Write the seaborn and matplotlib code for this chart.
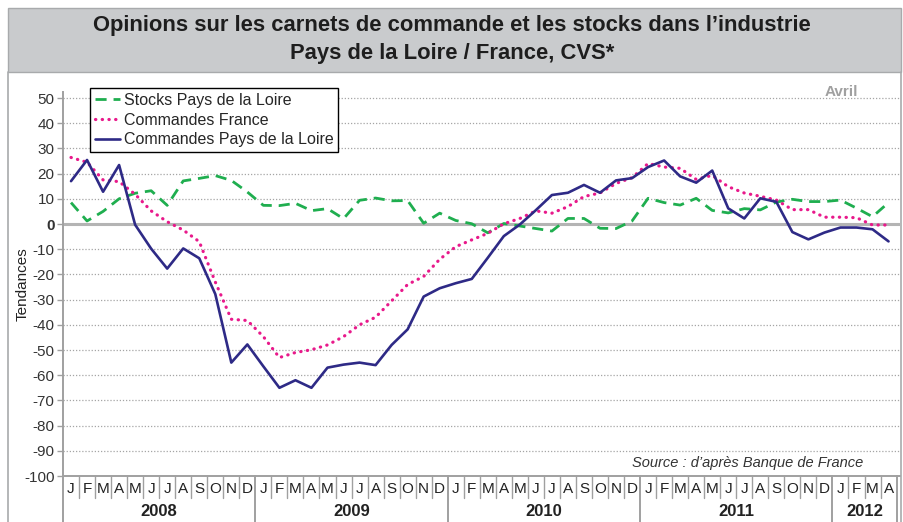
import matplotlib
matplotlib.use("Agg")
import matplotlib.pyplot as plt
import matplotlib.transforms as mtransforms
from matplotlib.patches import Rectangle
from matplotlib.lines import Line2D
import numpy as np
import pandas as pd
import seaborn as sns

# ---------------- data ----------------
month_labels = list("JFMAMJJASOND") * 4 + list("JFMA")
year_labels = ["2008", "2009", "2010", "2011", "2012"]
year_lengths = [12, 12, 12, 12, 4]

stocks_pdl = [8.5, 1.2, 5, 10, 12.2, 13.2, 7.4, 17.1, 18.1, 19.2, 17.3, 12.7,
              7.4, 7.3, 8.2, 5.3, 6.1, 2.1, 9.4, 10.3, 9.2, 9.3, 0.3, 4.3,
              1.4, 0.1, -3.5, 0.2, -0.8, -1.8, -2.8, 2.2, 2.2, -1.7, -1.8, 1.2,
              10.2, 8.5, 7.5, 10.2, 5.4, 4.4, 6.1, 5.6, 8.7, 9.8, 8.9, 8.9,
              9.5, 6.3, 2.9, 8.5]
commandes_france = [26.4, 24.5, 17.5, 16.8, 11.8, 5.2, 0.9, -2.4, -7, -23, -37.8, -38.3,
                    -44.7, -53, -51, -49.9, -48, -44.7, -40, -37, -30.5, -24, -20.8, -14,
                    -9, -6.3, -3.7, 0.1, 2.2, 5.2, 4.3, 6.9, 10.9, 12.3, 16.1, 18.4,
                    24, 22.6, 22.1, 17.7, 19.3, 14.8, 12.3, 11, 9.5, 5.7, 5.7, 2.7,
                    2.7, 2.5, -0.4, -0.4]
commandes_pdl = [17, 25.4, 12.8, 23.4, -0.3, -9.8, -17.7, -9.7, -13.6, -27.8, -55, -47.8,
                 -56.5, -65, -62, -65, -57, -55.8, -55, -56, -48, -41.8, -28.8, -25.5,
                 -23.5, -21.8, -13.4, -4.8, -0.2, 5.5, 11.5, 12.4, 15.5, 12.4, 17.3, 18.2,
                 22.6, 25.2, 18.9, 16.4, 21.2, 6.2, 2.2, 10.2, 8.8, -3.2, -6.1, -3.4,
                 -1.4, -1.4, -2.1, -6.9]

series_names = ["Stocks Pays de la Loire", "Commandes France", "Commandes Pays de la Loire"]
y_ticks = list(range(-100, 51, 10))

idx = np.arange(len(month_labels))
df = pd.DataFrame({"mois": idx, "stocks": stocks_pdl,
                   "france": commandes_france, "pdl": commandes_pdl})

# ---------------- style ----------------
sns.set_style("white")
plt.rcParams["font.family"] = ["Liberation Sans", "DejaVu Sans"]

W, H = 904, 522
fig = plt.figure(figsize=(W / 100, H / 100), dpi=100)

def fx(px):
    return px / W

def fy(py):
    return 1 - py / H

# title band + frame
fig.patches.append(Rectangle((fx(8), fy(72)), fx(901.5) - fx(8), fy(8) - fy(72),
                             transform=fig.transFigure, facecolor="#c9cbcd",
                             edgecolor="#a8aaac", lw=1, zorder=0))
for xpx in (8, 901.5):
    fig.lines.append(Line2D([fx(xpx), fx(xpx)], [fy(72), fy(522)],
                            transform=fig.transFigure, color="#a8aaac", lw=1.2))

title_font = ["Liberation Sans Narrow", "Liberation Sans", "DejaVu Sans"]
fig.text(0.5, fy(25), "Opinions sur les carnets de commande et les stocks dans l\u2019industrie",
         ha="center", va="center", fontsize=15.8, fontweight="bold",
         family=title_font, color="#1e1e1e")
fig.text(0.5, fy(53), "Pays de la Loire / France, CVS*",
         ha="center", va="center", fontsize=15.8, fontweight="bold",
         family=title_font, color="#1e1e1e")

ax_left, ax_right, ax_top, ax_bottom = 63, 900, 91.7, 476
ax = fig.add_axes([fx(ax_left), fy(ax_bottom), fx(ax_right) - fx(ax_left),
                   fy(ax_top) - fy(ax_bottom)])
ax.set_facecolor("white")

# grid lines
for v in y_ticks:
    if v in (0, -100):
        continue
    ax.axhline(v, color="#a5a5a5", lw=0.9, linestyle=(0, (1, 1.5)), zorder=1)
ax.axhline(0, color="#b4b4b4", lw=2.2, zorder=1)

# series
sns.lineplot(data=df, x="mois", y="stocks", ax=ax, color="#1fae4f", lw=2.0,
             linestyle=(0, (4, 2.5)), label=series_names[0], zorder=3)
sns.lineplot(data=df, x="mois", y="france", ax=ax, color="#e8198b", lw=2.3,
             linestyle=(0, (0.1, 2.0)), dash_capstyle="round", label=series_names[1], zorder=4)
sns.lineplot(data=df, x="mois", y="pdl", ax=ax, color="#2e2a86", lw=1.9,
             label=series_names[2], zorder=5)

ax.set_xlim(-0.5, -0.5 + (ax_right - ax_left) / 16.03)
ax.set_ylim(-100, 52.5)
ax.set_xticks([])
ax.set_xlabel("")
ax.set_yticks(y_ticks)
ax.set_yticklabels([str(v) for v in y_ticks])
for lab in ax.get_yticklabels():
    if lab.get_text() == "0":
        lab.set_fontweight("bold")
ax.tick_params(axis="y", length=4, width=1, color="#a0a0a0", labelsize=11,
               labelcolor="#333333", pad=2, left=True)
ax.set_ylabel("Tendances", fontsize=11, color="#222222")
ax.yaxis.set_label_coords((30 - ax_left) / (ax_right - ax_left), 0.5)

for s in ("top", "right"):
    ax.spines[s].set_visible(False)
ax.spines["left"].set_color("#a0a0a0")
ax.spines["left"].set_linewidth(1.4)
ax.spines["bottom"].set_color("#a0a0a0")
ax.spines["bottom"].set_linewidth(1.4)

# month cells below axis
trans = mtransforms.blended_transform_factory(ax.transData, ax.transAxes)
axh = ax_bottom - ax_top

def ay(py):
    return -(py - ax_bottom) / axh

year_bounds = np.cumsum([0] + year_lengths)
for b in range(len(month_labels) + 1):
    xb = b - 0.5
    bottom = ay(522) if b in year_bounds else ay(498)
    ax.plot([xb, xb], [0, bottom], transform=trans, color="#a0a0a0",
            lw=1.4 if b in year_bounds else 1.0, clip_on=False)
for i, m in enumerate(month_labels):
    ax.text(i, ay(489), m, transform=trans, ha="center", va="center",
            fontsize=11, color="#222222")
for k, yl in enumerate(year_labels):
    xc = (year_bounds[k] + year_bounds[k + 1]) / 2 - 0.5
    ax.text(xc, ay(512), yl, transform=trans, ha="center", va="center",
            fontsize=12, fontweight="bold", color="#222222")

# annotations
fig.text(fx(841), fy(92), "Avril", ha="center", va="center", fontsize=11,
         fontweight="bold", color="#a0a0a0")
fig.text(fx(863), fy(463), "Source : d\u2019apr\u00e8s Banque de France", ha="right",
         va="center", fontsize=10.5, style="italic", color="#333333")

leg = ax.legend(loc="upper left", bbox_to_anchor=(fx(90), fy(88)),
                bbox_transform=fig.transFigure, frameon=True, fancybox=False,
                edgecolor="black", framealpha=1, fontsize=11.5, handlelength=1.6,
                handletextpad=0.2, labelspacing=0.3, borderpad=0.3,
                borderaxespad=0)
leg.get_frame().set_linewidth(1.0)
leg.set_zorder(10)

fig.savefig("out.png", dpi=100)
